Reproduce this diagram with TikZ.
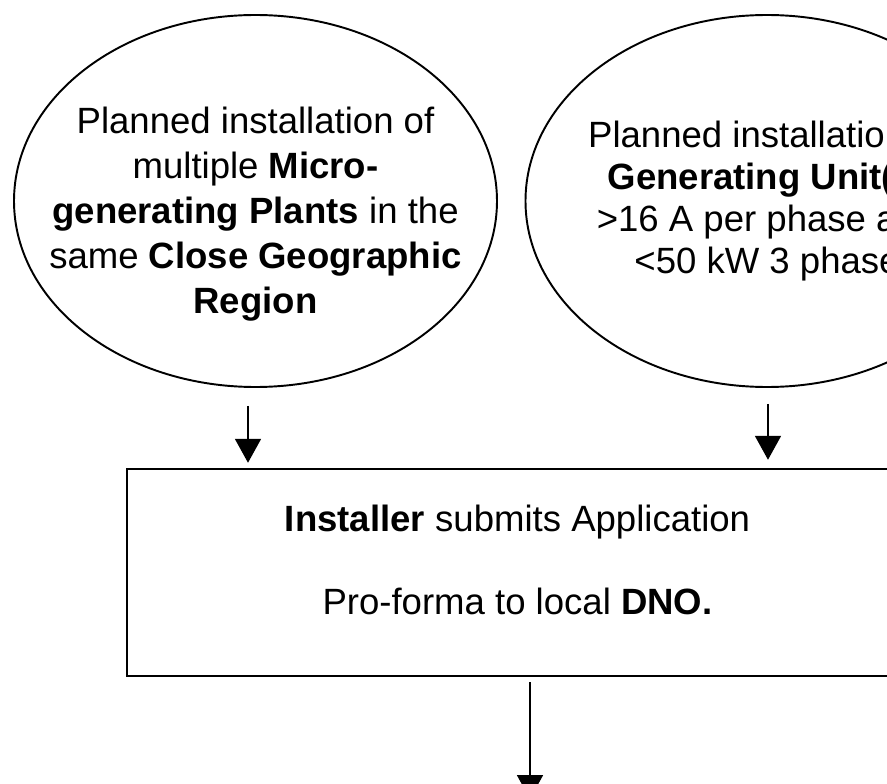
\documentclass[tikz,border=0pt]{standalone}
\usepackage{fontspec}
\setmainfont{Liberation Sans}
\usetikzlibrary{shapes.geometric,arrows.meta,positioning,calc}

\begin{document}
\begin{tikzpicture}[
    bubble/.style={draw, ellipse, line width=1.1pt, minimum width=9.66cm, minimum height=7.44cm, inner sep=0pt},
    bubbletext/.style={align=center, font=\fontsize{20.8}{25.6}\selectfont},
    procbox/.style={draw, rectangle, line width=1.4pt, minimum width=15.62cm, minimum height=4.14cm},
    flow/.style={-{Triangle[width=5.2mm,length=4.8mm]}, line width=1.1pt}
]
    % Page frame
    \useasboundingbox (0,0) rectangle (17.74,15.66);
    \clip (0,0) rectangle (17.74,15.66);

    % Starting cases
    \node[bubble] (multi) at (5.11, 11.64) {};
    \node[bubbletext] (multitxt) at ([yshift=-2.7mm]multi.center) {Planned installation of\\ multiple \textbf{Micro-}\\ \textbf{generating Plants} in the\\ same \textbf{Close Geographic}\\ \textbf{Region}};
    \node[bubble] (unit) at (15.34, 11.64) {};
    \node[bubbletext, font=\fontsize{20.8}{24}\selectfont] (unittxt) at (unit.center) {Planned installation of\\ \textbf{Generating Unit(s)}\\ >16 A per phase and\\ <50 kW 3 phase};

    % Application box
    \node[procbox] (apply) at (10.35, 4.21) {};
    \node[bubbletext] (applytxt) at ([yshift=2.6mm]apply.center) {\textbf{Installer} submits Application\\[21.6pt] Pro-forma to local \textbf{DNO.}};

    % Arrows
    \draw[flow] ([xshift=-1.5mm, yshift=-3.6mm]multi.south) -- ([xshift=-1.5mm, yshift=1mm]multi.south |- apply.north);
    \draw[flow] ([xshift=0.2mm, yshift=-3.2mm]unit.south) -- ([xshift=0.2mm, yshift=1.6mm]unit.south |- apply.north);
    \coordinate (next) at (10.6, -0.32);
    \draw[flow] ([yshift=-1mm]apply.south -| next) -- (next);
\end{tikzpicture}
\end{document}
